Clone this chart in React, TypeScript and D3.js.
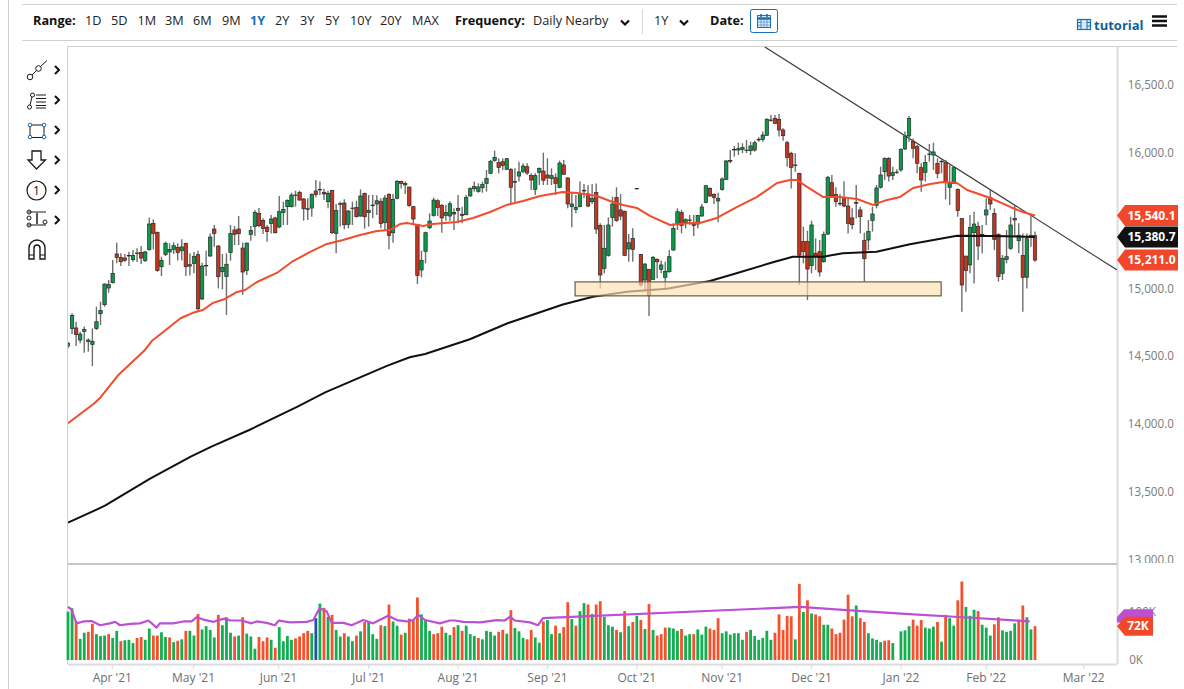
import React from "react";
import * as d3 from "d3";

const opens = [14577,14705,14710,14621,14685,14611,14589,14705,14815,14882,
15005,15044,15256,15231,15226,15241,15214,15261,15266,15207,
15290,15482,15416,15162,15253,15271,15290,15305,15280,15335,
15177,15185,15251,14924,15170,15241,15440,15315,15125,15089,
15266,15433,15440,15300,15133,15399,15458,15556,15504,15453,
15482,15522,15455,15561,15605,15605,15689,15711,15662,15585,
15595,15721,15730,15711,15642,15726,15408,15625,15632,15475,
15592,15600,15536,15704,15561,15615,15625,15645,15487,15696,
15413,15667,15790,15765,15750,15605,15475,15138,15276,15450,
15541,15649,15613,15541,15536,15561,15593,15549,15546,15684,
15738,15718,15745,15777,15851,15945,15930,15937,15881,15881,
15787,15831,15866,15900,15836,15733,15859,15868,15839,15814,
15819,15748,15913,15817,15605,15585,15605,15721,15699,15642,
15711,15467,15150,15246,15526,15672,15581,15571,15293,15371,
15738,15253,15064,15143,15069,15216,15143,15084,15125,15285,
15477,15561,15487,15505,15482,15477,15536,15635,15740,15696,
15647,15733,15807,15942,16025,16023,16028,16020,16018,16023,
16100,16102,16132,16242,16257,16250,16171,16077,15999,15910,
15851,15347,15347,15170,15261,15273,15199,15403,15782,15696,
15628,15674,15610,15522,15632,15581,15357,15359,15502,15615,
15748,15863,15962,15836,15858,15876,16031,16127,16087,16048,
15893,15859,15989,15986,15925,15937,15932,15748,15777,15733,
15517,15241,15175,15413,15458,15398,15544,15674,15556,15401,
15113,15216,15298,15519,15354,15246,15084,15394,15391];
const closes = [14597,14803,14661,14665,14700,14621,14611,14756,14840,15034,
15030,15113,15231,15199,15209,15246,15246,15263,15226,15271,
15477,15408,15133,15209,15335,15290,15317,15266,15308,15162,
15167,15239,14852,15167,15172,15381,15408,15089,15157,15180,
15408,15401,15406,15123,15337,15430,15563,15465,15445,15421,
15514,15413,15568,15585,15652,15691,15691,15654,15590,15590,
15694,15694,15733,15699,15704,15413,15576,15627,15472,15573,
15595,15531,15684,15531,15578,15617,15649,15480,15669,15394,
15659,15790,15777,15777,15613,15514,15098,15209,15413,15499,
15654,15600,15522,15563,15627,15551,15578,15541,15674,15738,
15753,15750,15770,15812,15940,15969,15895,15910,15959,15748,
15790,15861,15905,15854,15802,15834,15886,15800,15817,15834,
15777,15927,15844,15625,15625,15600,15704,15726,15610,15667,
15440,15101,15298,15470,15625,15502,15536,15246,15339,15290,
15740,15027,15182,14948,15231,15199,15175,15128,15236,15445,
15568,15467,15509,15507,15467,15539,15603,15760,15684,15672,
15667,15809,15942,15945,16028,16033,16043,16023,16053,16077,
16102,16134,16250,16245,16220,16171,16129,15969,15895,15913,
15248,15273,15145,15470,15241,15123,15399,15822,15684,15642,
15630,15610,15482,15472,15635,15531,15221,15421,15551,15743,
15839,15962,15831,15856,15861,16028,16127,16257,16036,15925,
15802,15932,15994,16009,15851,15940,15782,15780,15893,15576,
15027,15133,15453,15477,15315,15401,15581,15625,15364,15089,
15224,15236,15470,15507,15394,15084,15369,15379,15211];
const highs = [14609,14818,14756,14683,14720,14633,14707,14867,14904,15039,
15064,15212,15339,15261,15256,15273,15285,15298,15315,15280,
15526,15512,15421,15236,15347,15335,15342,15335,15364,15339,
15261,15273,15280,15192,15280,15408,15470,15320,15256,15261,
15470,15462,15536,15339,15339,15462,15581,15595,15519,15470,
15544,15531,15684,15642,15659,15708,15723,15723,15667,15667,
15704,15802,15790,15738,15723,15728,15625,15642,15659,15581,
15642,15649,15733,15708,15691,15691,15689,15667,15691,15704,
15699,15802,15797,15790,15753,15610,15477,15280,15421,15556,
15672,15659,15625,15617,15645,15593,15691,15605,15691,15748,
15790,15777,15790,15876,15950,16018,15962,15962,15964,15888,
15888,15937,15925,15925,15851,15851,15895,16004,15962,15888,
15851,15945,15950,15822,15704,15691,15790,15772,15765,15772,
15777,15482,15470,15526,15679,15748,15699,15576,15403,15445,
15740,15256,15187,15143,15241,15224,15207,15199,15285,15482,
15593,15581,15519,15544,15544,15544,15625,15765,15748,15704,
15708,15822,15950,16023,16053,16077,16073,16097,16085,16092,
16117,16159,16257,16282,16282,16289,16183,16092,16011,15999,
15856,15458,15428,15502,15371,15359,15421,15831,15839,15748,
15696,15792,15674,15593,15765,15605,15413,15507,15605,15765,
15900,15969,15969,15900,15881,16036,16159,16274,16109,16060,
15925,15986,16068,16077,15962,15954,15950,15913,15905,15740,
15519,15241,15544,15568,15494,15470,15667,15728,15593,15408,
15248,15433,15531,15610,15482,15408,15408,15536,15421];
const lows = [14560,14665,14577,14597,14528,14535,14429,14695,14732,14867,
14970,15039,15187,15167,15199,15167,15199,15197,15182,15197,
15280,15290,15125,15093,15241,15175,15256,15207,15207,15093,
15098,15113,14830,14916,15093,15236,15310,15002,14995,14806,
15207,15322,15322,14953,15101,15354,15389,15453,15403,15347,
15408,15408,15445,15470,15470,15600,15605,15649,15502,15507,
15531,15674,15691,15654,15593,15403,15261,15458,15438,15445,
15470,15526,15531,15443,15458,15519,15544,15445,15428,15290,
15339,15659,15740,15699,15605,15470,15034,15084,15187,15438,
15531,15536,15413,15502,15502,15433,15482,15482,15541,15679,
15716,15708,15708,15716,15846,15937,15851,15876,15876,15625,
15642,15790,15851,15839,15728,15691,15765,15765,15765,15765,
15691,15740,15839,15593,15453,15556,15600,15667,15600,15625,
15403,15002,15113,15236,15458,15494,15507,15241,15199,15199,
15738,15015,14990,14798,15064,15076,15113,15002,15118,15280,
15433,15408,15445,15470,15389,15445,15531,15630,15679,15625,
15490,15723,15802,15925,15974,15986,16000,16000,15986,16011,
16085,16085,16127,16232,16215,16122,16092,15900,15740,15863,
15027,15187,14916,15113,15138,15089,15192,15396,15674,15605,
15610,15600,15408,15438,15519,15408,15052,15285,15421,15593,
15740,15802,15790,15802,15846,15863,16023,16085,15962,15851,
15716,15790,15937,15876,15814,15851,15659,15617,15772,15531,
14830,14978,15113,15039,15212,15261,15470,15581,15285,15052,
15064,15187,15285,15384,15261,14830,15002,15310,15199];

const volumes = [103,110,82,45,58,60,77,55,51,52,55,47,62,40,42,43,36,47,49,43,
67,52,52,59,49,48,38,41,44,62,62,52,98,65,72,64,48,96,74,91,
58,50,52,91,56,50,24,49,40,48,43,26,70,40,51,43,46,50,57,62,
57,89,120,111,92,96,64,50,57,50,40,52,61,81,82,55,45,74,72,118,
82,73,54,58,88,85,133,97,85,62,55,57,71,58,53,70,74,62,73,55,
51,47,44,62,60,52,60,64,56,106,68,61,47,44,64,48,37,82,85,55,
73,57,70,123,87,73,104,121,118,98,118,125,92,74,71,64,59,104,72,81,
94,85,66,119,64,52,55,69,69,67,62,66,52,55,55,65,54,71,67,64,
89,57,61,54,57,57,43,60,64,51,43,47,62,43,58,97,64,94,93,44,
162,102,127,99,97,93,75,75,67,55,58,86,139,93,116,89,81,57,46,43,
38,41,42,36,0,61,63,72,86,73,85,69,67,71,81,39,96,89,73,127,
167,113,94,107,104,75,69,52,76,91,63,60,62,78,86,116,91,65,72];
const volumeColors = "GGRGGRRGGG" + "RGGRGGGRRG" + "GRRGGRGRGR" + "GGRGGGGRGG" + "GRGRGGGRRR" + "GRGGGGRRRR" +
  "GBGRGRGGRG" + "GRGRGGGRGR" + "GGRGRRRGGG" + "RRRGGRGRGG" + "GRGGGGRRGR" + "GGGRRGGRGG" + "RGRRGRGGRG" +
  "RRGGGRGRGR" + "GRGRGRRRGG" + "GRGGRGGGRR" + "RGGGGGGRGG" + "GGGGRRRRRG" + "RGRGRRGGRR" + "RRRRGRRGGG" +
  "GRRGGGGGRR" + "RGGGRGRGGR" + "RGGGRGGGRR" + "GGGGRRGGR";

const ma50Index = [0,6.5,8.1,12.4,18.8,20.7,27.7,30.7,33.2,35.7,38.6,41.6,43.6,46.5,51.4,55.4,59.6,63.7,67.7,71.9,76,79.2,81.7,83.4,87.4,89.8,95.7,99.7,103.9,108,112,116.2,121.8,125.3,130.2,133.4,136.6,140,143.2,148.2,153,155.5,159.7,164.7,169.6,174.5,177.7,179.4,181.9,185.8,190,194.2,198.1,201.6,204.8,208,212.2,215.4,218.8,221.3,227,231.9,235,238];
const ma50Value = [14007,14154,14201,14363,14543,14616,14782,14822,14843,14895,14924,14976,14990,15049,15116,15204,15271,15330,15359,15396,15426,15433,15477,15485,15463,15477,15492,15522,15566,15618,15647,15684,15714,15706,15684,15647,15618,15596,15537,15470,15485,15485,15522,15603,15677,15780,15802,15802,15751,15677,15677,15662,15618,15655,15677,15743,15773,15787,15780,15728,15669,15603,15566,15540];
const ma200Index = [0,6.5,9.1,20.1,30.2,35.3,44.6,56.5,63.3,78.5,84.1,87.9,98.9,108.2,121.8,129.2,137.6,147.4,158,163.7,173.5,178.4,185.8,190.7,199,207.2,218.8,227.7,238];
const ma200Value = [13273,13362,13399,13596,13760,13834,13957,14129,14235,14430,14494,14518,14627,14745,14883,14941,14978,15000,15057,15106,15195,15236,15236,15261,15273,15328,15391,15389,15381];
const volAvgIndex = [0,.8,2.1,3.8,5.8,7.9,10.3,11.6,12.8,15.3,17.7,19.8,21.8,22.6,25.9,28.4,30.4,31.7,33.3,35.8,37,38.6,39.9,42.7,45.2,46.4,48.9,50.9,51.9,54.6,58.7,60.4,61.9,63.7,64.9,67.8,69.8,72.7,75.1,78.8,80.9,83.3,85,86.2,87.9,91.5,94,95.2,97.3,101.4,105.5,107.5,108.8,110,113.7,115.7,116.9,177.7,180.1,191.6,208,220.3,236.7];
const volAvgValue = [113,108,78,82,83,74,78,81,74,77,78,84,69,78,78,82,82,91,86,81,85,88,84,84,78,82,79,74,84,80,81,85,110,103,79,79,74,85,78,94,85,82,85,96,85,78,84,84,81,80,85,84,92,84,80,74,89,112,113,106,97,91,82];

const priceTicks = [16500,16000,15000,14500,14000,13500,13000];
const monthIndex = [10.9,30.9,51.8,74,96,118,140,161,183,205,226,250];
const monthLabels = ["Apr '21","May '21","Jun '21","Jul '21","Aug '21","Sep '21","Oct '21","Nov '21","Dec '21","Jan '22","Feb '22","Mar '22"];
const rangeLabels = ["1D","5D","1M","3M","6M","9M","1Y","2Y","3Y","5Y","10Y","20Y","MAX"];
const supportZone = { from: 124.8, to: 214.9, top: 15050, bottom: 14947 };
const trendIndex = [171.5, 258.2];
const trendValue = [16784, 15138];
const lastTags = [
  { value: 15540.1, label: "15,540.1", color: "#f1472a" },
  { value: 15380.7, label: "15,380.7", color: "#111111" },
  { value: 15211.0, label: "15,211.0", color: "#f1472a" },
];

const FONT = "'Open Sans', sans-serif";
const x = d3.scaleLinear().domain([0, 238]).range([68, 1035]);
const y = d3.scaleLinear().domain([13000, 16500]).range([559.7, 85.4]);
const v = d3.scaleLinear().domain([0, 100]).range([660, 613]);
const fmt = d3.format(",.1f");

const lineOf = (xs: number[], ys: number[], sy: (n: number) => number) =>
  d3.line<number>().x((d) => x(xs[d])).y((d) => sy(ys[d]))(d3.range(xs.length)) as string;

const rangeX = [85,111,137.5,165,193,222,250,275,300,325,350,380,412];

function Chevron({ cx, cy }: { cx: number; cy: number }) {
  return <path d={`M${cx - 4},${cy - 2.5}L${cx},${cy + 1.5}L${cx + 4},${cy - 2.5}`} fill="none" stroke="#111" strokeWidth={2.2} />;
}
function SideChevron({ cy }: { cy: number }) {
  return <path d={`M55,${cy - 4}L59,${cy}L55,${cy + 4}`} fill="none" stroke="#111" strokeWidth={2} />;
}

function Tools() {
  const s = "#1a1a1a";
  return (
    <g fill="none" stroke={s} strokeWidth={1}>
      <circle cx={30} cy={77} r={2.8} /><circle cx={38.5} cy={68.5} r={2.8} /><path d="M32,75L36.5,70.5M40.5,66.5L47,60.5" />
      <circle cx={29.5} cy={107} r={2} /><circle cx={32.5} cy={95} r={2} /><path d="M30,105L32,97M36,95H46M36,98.5H46M36,102H46M36,105.5H46M36,108H46" />
      <rect x={30} y={125} width={14} height={12.5} /><circle cx={30} cy={125} r={1.8} fill="#fff" stroke="#1767a8" /><circle cx={44} cy={125} r={1.8} fill="#fff" stroke="#1767a8" /><circle cx={30} cy={137} r={1.8} fill="#fff" stroke="#1767a8" /><circle cx={44} cy={137} r={1.8} fill="#fff" stroke="#1767a8" />
      <path d="M32,151H41V160H45.5L36.5,169L28,160H32Z" strokeWidth={1.3} />
      <circle cx={36.5} cy={190.5} r={9.5} strokeWidth={1.2} />
      <path d="M28,212H46M28,225H46" /><circle cx={29} cy={212} r={2} /><circle cx={29} cy={218} r={2} /><circle cx={29} cy={225} r={2} /><circle cx={45} cy={222} r={2} /><path d="M37,213V224" strokeWidth={1.5} />
      <path d="M29,259V248a8,8,0,0,1,16,0V259H40V248a3,3,0,0,0,-6,0V259Z" strokeWidth={1.4} /><path d="M29,255H34M40,255H45" />
      <text x={36.5} y={195} fontSize={12} textAnchor="middle" fill="#111" stroke="none" fontFamily={FONT}>1</text>
      {[70,100,130,160,190,220].map((c) => <SideChevron key={c} cy={c} />)}
    </g>
  );
}

export default function App() {
  const idx = d3.range(opens.length);
  return (
    <svg width={1184} height={689} style={{ position: "absolute", left: 0, top: 0, display: "block", background: "#fff" }} fontFamily={FONT}>
      <defs>
        <clipPath id="plot"><rect x={68} y={47} width={1049} height={516} /></clipPath>
        <clipPath id="priceLabels"><rect x={1118} y={47} width={66} height={516} /></clipPath>
      </defs>

      {/* page frame */}
      <g stroke="#cfcfcf" fill="none">
        <path d="M22,4.5H1177" /><path d="M22,40.5H1177" /><path d="M8.5,0V689" />
        <path d="M67.5,46.5H1177" /><path d="M67.5,46.5V664" />
      </g>
      <path d="M1117.5,46V664" stroke="#dcdcdc" strokeWidth={2} />
      <path d="M68,564H1117" stroke="#c8c8c8" strokeWidth={2} />
      <path d="M68,664.5H1117" stroke="#dcdcdc" strokeWidth={2} />

      {/* toolbar */}
      <g fontSize={12.7} fill="#222">
        <text x={33} y={25} fontWeight={700} fill="#111">Range:</text>
        {rangeLabels.map((r, i) => (
          <text key={r} x={rangeX[i]} y={25} fontWeight={r === "1Y" ? 700 : 400} fill={r === "1Y" ? "#1b6fb5" : "#222"}>{r}</text>
        ))}
        <text x={455} y={25} fontWeight={700} fill="#111">Frequency:</text>
        <text x={533} y={25}>Daily Nearby</text>
        <text x={654} y={25}>1Y</text>
        <text x={710} y={25} fontWeight={700} fill="#111">Date:</text>
      </g>
      <Chevron cx={625} cy={23} />
      <Chevron cx={684} cy={23} />
      <path d="M642.5,9V34" stroke="#d5d5d5" />
      <rect x={750.5} y={9.5} width={27} height={23} rx={2} fill="#fff" stroke="#1b6fb5" />
      <g fill="none" stroke="#1b6fb5">
        <rect x={757.5} y={15.5} width={13} height={12} fill="#dfeaf6" />
        <path d="M757.5,18.5H770.5" strokeWidth={2.5} /><path d="M761,14V17M767,14V17" strokeWidth={1.6} />
        <path d="M757.5,22H770.5M757.5,25H770.5M761,19V27.5M764,19V27.5M767,19V27.5" strokeWidth={0.5} />
      </g>
      <g fill="none" stroke="#1b6fb5">
        <rect x={1077.5} y={19.5} width={13} height={10} strokeWidth={1.2} fill="#d8e8f6" />
        <path d="M1081,19.5V29.5M1087,19.5V29.5M1077.5,22.5H1081M1077.5,26H1081M1087,22.5H1090.5M1087,26H1090.5" />
      </g>
      <text x={1094} y={30} fontSize={13} fontWeight={700} fill="#0e5f9c">tutorial</text>
      <path d="M1152,16.5H1167M1152,21H1167M1152,25.5H1167" stroke="#111" strokeWidth={2.4} />
      <Tools />

      {/* moving averages and candles */}
      <g clipPath="url(#plot)">
        <path d={lineOf(trendIndex, trendValue, y)} stroke="#3a3a3a" strokeWidth={1.1} fill="none" />
        {idx.map((i) => {
          const up = closes[i] >= opens[i];
          const top = y(Math.max(opens[i], closes[i]));
          const bot = y(Math.min(opens[i], closes[i]));
          return (
            <g key={i}>
              <line x1={x(i)} x2={x(i)} y1={y(highs[i])} y2={y(lows[i])} stroke="#6e6e6e" strokeWidth={1.4} />
              <rect x={x(i) - 1.7} width={3.4} y={top} height={Math.max(bot - top, 0.6)} fill={up ? "#0b9a4a" : "#c4361d"} stroke="#2a2a2a" strokeWidth={0.7} />
            </g>
          );
        })}
        <path d={lineOf(ma50Index, ma50Value, y)} stroke="#f24c2c" strokeWidth={2} fill="none" strokeLinejoin="round" />
        <path d={lineOf(ma200Index, ma200Value, y)} stroke="#111" strokeWidth={2} fill="none" strokeLinejoin="round" />
        <rect
          x={x(supportZone.from)} width={x(supportZone.to) - x(supportZone.from)}
          y={y(supportZone.top)} height={y(supportZone.bottom) - y(supportZone.top)}
          fill="#fce2b4" fillOpacity={0.68} stroke="#6b5c3f" strokeWidth={1.2}
        />
        <text x={x(6)} y={y(14429) + 6} fontSize={4} fill="#1bc45f" textAnchor="middle">~</text>
        <text x={x(175)} y={y(16289) - 1} fontSize={4} fill="#f4775c" textAnchor="middle">~</text>
      </g>

      {/* volume */}
      {volumes.map((val, i) => (
        <rect key={i} x={x(i) - 1.4} width={2.8} y={v(val)} height={v(0) - v(val)}
          fill={volumeColors[i] === "G" ? "#12ae50" : volumeColors[i] === "B" ? "#2450b0" : "#f4512c"} />
      ))}
      <path d={lineOf(volAvgIndex, volAvgValue, v)} stroke="#bd4fd3" strokeWidth={2.2} fill="none" strokeLinejoin="round" />

      {/* price axis */}
      <g fontSize={11.7} fill="#7b7b7b" textAnchor="end">
        <g clipPath="url(#priceLabels)">
          {priceTicks.map((t) => (
            <text key={t} x={1174} y={y(t) + 4}>{fmt(t)}</text>
          ))}
        </g>
        <text x={1156} y={616}>100K</text>
        <text x={1143} y={664}>0K</text>
      </g>
      {lastTags.map((t) => {
        const c = y(t.value);
        return (
          <g key={t.label}>
            <path d={`M1117,${c}L1125,${c - 10.5}H1178V${c + 10.5}H1125Z`} fill={t.color} />
            <text x={1151.5} y={c + 4.3} fontSize={12} fontWeight={700} fill="#fff" textAnchor="middle">{t.label}</text>
          </g>
        );
      })}
      <path d={`M1117,617L1124,${v(108)}H1153V${v(80)}H1117Z`} fill="#bd4fd3" />
      <path d={`M1117,${v(72)}L1125,${v(72) - 9.5}H1153V${v(72) + 9.5}H1125Z`} fill="#f1472a" />
      <text x={1138} y={v(72) + 4.3} fontSize={12} fontWeight={700} fill="#fff" textAnchor="middle">72K</text>

      {/* time axis */}
      {monthIndex.map((m, i) => (
        <g key={monthLabels[i]}>
          <line x1={x(m)} x2={x(m)} y1={665} y2={669} stroke="#dcdcdc" strokeWidth={1.2} />
          <text x={x(m)} y={682} fontSize={12} fill="#6e6e6e" textAnchor="middle">{monthLabels[i]}</text>
        </g>
      ))}
    </svg>
  );
}
